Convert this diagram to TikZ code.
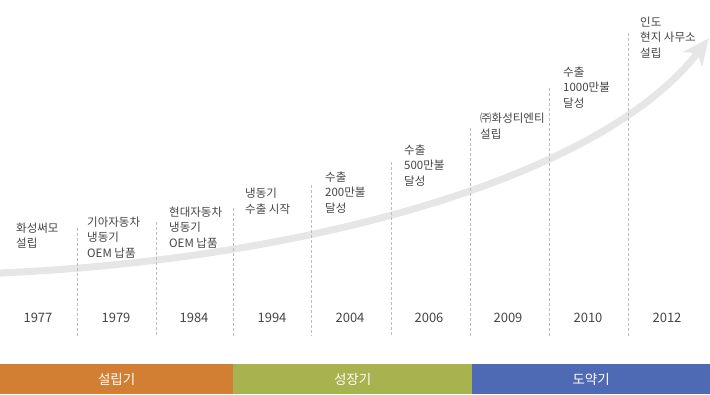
\documentclass[tikz,border=0pt]{standalone}
\usepackage{fontspec}
\setmainfont{Noto Sans CJK KR}
\usetikzlibrary{arrows.meta}
\definecolor{barorange}{HTML}{D37F33}
\definecolor{bargreen}{HTML}{A8B350}
\definecolor{barblue}{HTML}{4F6AB4}
\definecolor{txtgray}{HTML}{444444}
\definecolor{linegray}{HTML}{BBBBBB}
\definecolor{arrowgray}{HTML}{E6E6E6}
\begin{document}
\begin{tikzpicture}[x=1pt,y=-1pt,
        event/.style={anchor=base west,inner sep=0,align=left,text=txtgray,font=\fontsize{11.5}{15.5}\selectfont},
        year/.style={inner sep=0,text=txtgray,font=\fontsize{13}{15}\selectfont},
        sep/.style={draw=linegray,line width=0.8pt,dash pattern=on 3pt off 2pt},
        band/.style={anchor=north west,inner sep=0,minimum height=30pt,text=white,font=\fontsize{13.5}{16}\selectfont},
        risearrow/.style={draw=arrowgray,line width=7pt,-{Stealth[length=27pt,width=24pt,inset=8pt]}}
      ]
      \useasboundingbox (0,0) rectangle (710,394);
      \coordinate (start) at (0,273);
      \coordinate (tip) at (709,38);
      \draw[risearrow] (start) .. controls (300,260) and (600,180) .. (tip);
      \node[event] (e1977) at (16,247.5) {화성써모\\설립};
      \node[event] (e1979) at (87,257) {기아자동차\\냉동기\\OEM 납품};
      \node[event] (e1984) at (169,247) {현대자동차\\냉동기\\OEM 납품};
      \node[event] (e1994) at (245,213) {냉동기\\수출 시작};
      \node[event] (e2004) at (325,212) {수출\\200만불\\달성};
      \node[event] (e2006) at (404,185) {수출\\500만불\\달성};
      \node[event] (e2009) at (480,138) {㈜화성티엔티\\설립};
      \node[event] (e2010) at (563,107) {수출\\1000만불\\달성};
      \node[event] (e2012) at (640,57) {인도\\현지 사무소\\설립};
      \coordinate (t1979) at (77,228);  \coordinate (b1979) at (77,336);
      \coordinate (t1984) at (156,222); \coordinate (b1984) at (156,336);
      \coordinate (t1994) at (233,208); \coordinate (b1994) at (233,336);
      \coordinate (t2004) at (311,185); \coordinate (b2004) at (311,336);
      \coordinate (t2006) at (391,162); \coordinate (b2006) at (391,336);
      \coordinate (t2009) at (470,128); \coordinate (b2009) at (470,336);
      \coordinate (t2010) at (549,88);  \coordinate (b2010) at (549,336);
      \coordinate (t2012) at (628,33);  \coordinate (b2012) at (628,336);
      \draw[sep] (t1979) -- (b1979);
      \draw[sep] (t1984) -- (b1984);
      \draw[sep] (t1994) -- (b1994);
      \draw[sep] (t2004) -- (b2004);
      \draw[sep] (t2006) -- (b2006);
      \draw[sep] (t2009) -- (b2009);
      \draw[sep] (t2010) -- (b2010);
      \draw[sep] (t2012) -- (b2012);
      \node[year] (y1977) at (38,318) {1977};
      \node[year] (y1979) at (116,318) {1979};
      \node[year] (y1984) at (194,318) {1984};
      \node[year] (y1994) at (272,318) {1994};
      \node[year] (y2004) at (350,318) {2004};
      \node[year] (y2006) at (429,318) {2006};
      \node[year] (y2009) at (508,318) {2009};
      \node[year] (y2010) at (588,318) {2010};
      \node[year] (y2012) at (667,318) {2012};
      \node[band,fill=barorange,minimum width=233pt] (found) at (0,364) {설립기};
      \node[band,fill=bargreen,minimum width=239pt] (growth) at (233,364) {성장기};
      \node[band,fill=barblue,minimum width=238pt] (leap) at (472,364) {도약기};
    \end{tikzpicture}
\end{document}
